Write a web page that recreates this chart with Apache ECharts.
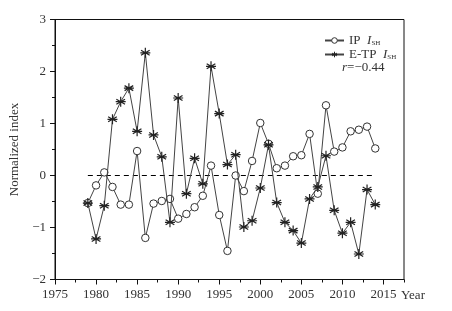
<!DOCTYPE html>
<html>
<head>
<meta charset="utf-8">
<script src="https://cdn.jsdelivr.net/npm/echarts@6/dist/echarts.min.js"></script>
<style>
  html, body { margin: 0; padding: 0; background: #fff; }
  #chart { width: 452px; height: 311px; }
</style>
</head>
<body>
<div id="chart"></div>
<script>
var years = [1979, 1980, 1981, 1982, 1983, 1984, 1985, 1986, 1987, 1988, 1989, 1990,
    1991, 1992, 1993, 1994, 1995, 1996, 1997, 1998, 1999, 2000,
    2001, 2002, 2003, 2004, 2005, 2006, 2007, 2008, 2009, 2010, 2011, 2012, 2013, 2014];
var ipIsh = [-0.53, -0.19, 0.06, -0.22, -0.56, -0.56, 0.47, -1.20, -0.54, -0.49, -0.45, -0.83,
    -0.74, -0.61, -0.39, 0.19, -0.76, -1.45, 0.00, -0.30, 0.28, 1.01,
    0.61, 0.14, 0.19, 0.37, 0.39, 0.80, -0.35, 1.35, 0.46, 0.54, 0.85, 0.88, 0.94, 0.52];
var etpIsh = [-0.53, -1.22, -0.58, 1.08, 1.42, 1.68, 0.85, 2.36, 0.78, 0.36, -0.90, 1.49,
    -0.35, 0.33, -0.16, 2.10, 1.19, 0.21, 0.40, -0.99, -0.87, -0.24,
    0.59, -0.52, -0.90, -1.06, -1.30, -0.45, -0.22, 0.38, -0.67, -1.11, -0.90, -1.51, -0.27, -0.56];
var xTicks = [1975, 1980, 1985, 1990, 1995, 2000, 2005, 2010, 2015];
var zeroLine = [[1979, 0], [2014, 0]];

var font = 'Liberation Serif';
var star = 'path://M0,-10L0,10M-8.66,-5L8.66,5M-8.66,5L8.66,-5M-10,0L10,0';

function pairs(vals) {
    return years.map(function (y, i) { return [y, vals[i]]; });
}

var chart = echarts.init(document.getElementById('chart'));
var option = {
    backgroundColor: '#fff',
    animation: false,
    textStyle: { fontFamily: font },
    grid: {
        left: 55, right: 48, top: 19.5, bottom: 31.5,
        show: true, borderColor: '#111', borderWidth: 1
    },
    legend: {
        data: [
            { name: 'IP', itemStyle: { color: '#fff', borderColor: '#333', borderWidth: 1 } },
            { name: 'E-TP', itemStyle: { color: '#222', borderColor: '#222', borderWidth: 1 } }
        ],
        orient: 'vertical',
        left: 319, top: 29,
        itemWidth: 19, itemHeight: 7, itemGap: 1,
        formatter: function (name) {
            return '{a|' + name + '  }{i|I}{s|SH}';
        },
        textStyle: {
            fontFamily: font, fontSize: 13, color: '#333', lineHeight: 12,
            rich: {
                a: { fontFamily: font, fontSize: 13, color: '#333', lineHeight: 12 },
                i: { fontFamily: font, fontSize: 13, fontStyle: 'italic', color: '#333', lineHeight: 12 },
                s: { fontFamily: font, fontSize: 7, color: '#333', lineHeight: 12, verticalAlign: 'bottom' }
            }
        }
    },
    graphic: [
        {
            type: 'text', left: 342, top: 61,
            style: {
                text: '{r|r}=−0.44',
                fontFamily: font, fontSize: 13, fill: '#333',
                rich: { r: { fontFamily: font, fontSize: 13, fontStyle: 'italic', fill: '#333' } }
            }
        },
        {
            type: 'text', left: 401, top: 289,
            style: { text: 'Year', fontFamily: font, fontSize: 13, fill: '#333' }
        }
    ],
    xAxis: [
        {
            type: 'value', min: 1975, max: 2017.5, interval: 5,
            splitLine: { show: false },
            axisLine: { onZero: false, lineStyle: { color: '#111' } },
            axisTick: { length: 5, lineStyle: { color: '#111' }, customValues: xTicks },
            axisLabel: {
                customValues: xTicks, margin: 9, color: '#333', fontFamily: font, fontSize: 13,
                formatter: function (v) { return v % 5 === 0 ? String(v) : ''; }
            }
        },
        {
            type: 'value', min: 1975, max: 2017.5, interval: 2.5, position: 'bottom',
            splitLine: { show: false },
            axisLine: { show: false, onZero: false },
            axisTick: { length: 3, lineStyle: { color: '#111' } },
            axisLabel: { show: false }
        }
    ],
    yAxis: {
        type: 'value', min: -2, max: 3, interval: 1,
        name: 'Normalized index', nameLocation: 'middle', nameGap: 30,
        nameTextStyle: { fontFamily: font, fontSize: 13, color: '#333' },
        splitLine: { show: false },
        axisLine: { onZero: false, lineStyle: { color: '#111' } },
        axisTick: { length: 5, lineStyle: { color: '#111' } },
        minorTick: { show: true, splitNumber: 2, length: 3, lineStyle: { color: '#111' } },
        axisLabel: {
            margin: 9, color: '#333', fontFamily: font, fontSize: 13,
            formatter: function (v) { return v < 0 ? '−' + Math.abs(v) : String(v); }
        }
    },
    series: [
        {
            name: 'zero', type: 'line', data: zeroLine, symbol: 'none', silent: true,
            lineStyle: { color: '#000', width: 1, type: [5, 4] }
        },
        {
            name: 'IP', type: 'line', data: pairs(ipIsh),
            symbol: 'circle', symbolSize: 7.5,
            itemStyle: { color: '#fff', borderColor: '#333', borderWidth: 1 },
            lineStyle: { color: '#444', width: 1 },
            z: 3
        },
        {
            name: 'E-TP', type: 'line', data: pairs(etpIsh),
            symbol: star, symbolSize: 10,
            itemStyle: { color: '#222', borderColor: '#222', borderWidth: 1.2 },
            lineStyle: { color: '#444', width: 1 },
            z: 4
        }
    ]
};
chart.setOption(option);
</script>
</body>
</html>
